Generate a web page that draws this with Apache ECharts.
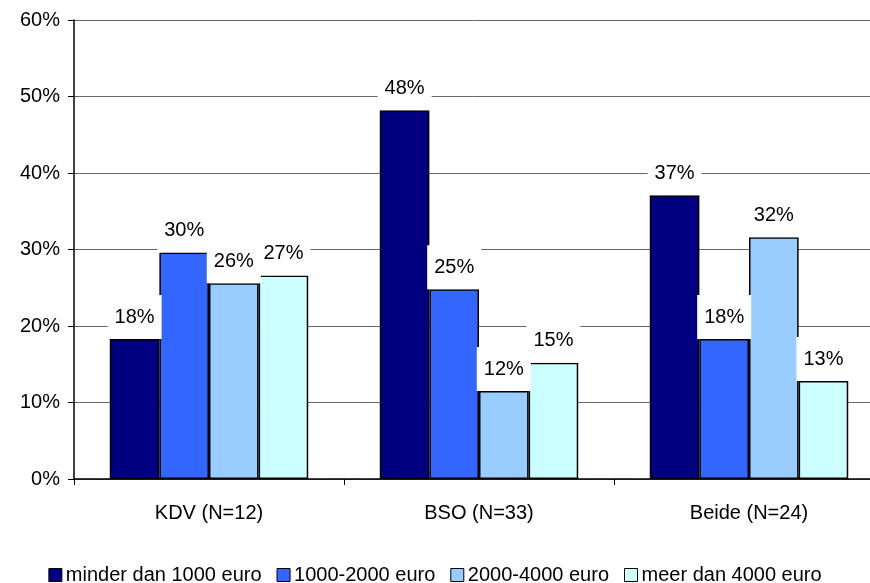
<!DOCTYPE html>
<html><head><meta charset="utf-8">
<script src="https://cdn.jsdelivr.net/npm/echarts@6/dist/echarts.min.js"></script>
<style>html,body{margin:0;padding:0;background:#fff}#c{width:870px;height:583px}</style>
</head><body><div id="c"></div>
<script>
const categories = ['KDV (N=12)', 'BSO (N=33)', 'Beide (N=24)'];
const seriesNames = ['minder dan 1000 euro', '1000-2000 euro', '2000-4000 euro', 'meer dan 4000 euro'];
const s1 = [18.3, 48.2, 37.1];
const s2 = [29.6, 24.8, 18.3];
const s3 = [25.6, 11.5, 31.6];
const s4 = [26.6, 15.2, 12.8];
const yTicks = [0, 10, 20, 30, 40, 50, 60];
const colors = ['#000080', '#3366FF', '#99CCFF', '#CCFFFF'];
const values = [s1, s2, s3, s4];
const font = 'Liberation Sans, Arial, sans-serif';
const chart = echarts.init(document.getElementById('c'));
chart.setOption({
  animation: false,
  legend: {
    top: 560, left: 'center', itemWidth: 13, itemHeight: 13, itemGap: 15,
    textStyle: {fontFamily: font, fontSize: 20, color: '#000', padding: [0, 0, 0, -1]},
    data: seriesNames.map((n, i) => ({name: n, icon: 'rect', itemStyle: {color: colors[i], borderColor: '#000', borderWidth: 1}}))
  },
  grid: {left: 74, width: 810, top: 20, bottom: 104, outerBoundsMode: 'none', containLabel: false},
  xAxis: {
    type: 'category', data: categories,
    axisLine: {lineStyle: {color: '#000', width: 1.5}},
    axisTick: {show: true, length: 6, lineStyle: {color: '#000'}},
    axisLabel: {fontFamily: font, fontSize: 20, color: '#000', margin: 24}
  },
  yAxis: {
    type: 'value', min: 0, max: 60, interval: 10,
    axisLine: {show: true, lineStyle: {color: '#000', width: 1.5}},
    axisTick: {show: true, length: 6, lineStyle: {color: '#000'}},
    axisLabel: {fontFamily: font, fontSize: 20, color: '#000', margin: 14, formatter: v => yTicks.includes(v) ? v + '%' : ''},
    splitLine: {lineStyle: {color: '#666', width: 1}}
  },
  series: values.map((d, i) => ({
    name: seriesNames[i], type: 'bar', data: d,
    barGap: '0%', barCategoryGap: '26.5%',
    itemStyle: {color: colors[i], borderColor: '#000', borderWidth: 1.5},
    label: {
      show: true, position: 'top', distance: 0,
      formatter: p => Math.round(p.value) + '%',
      fontFamily: font, fontSize: 20, color: '#000',
      backgroundColor: '#fff', padding: [12, 7, 12, 7]
    }
  }))
});
</script></body></html>
